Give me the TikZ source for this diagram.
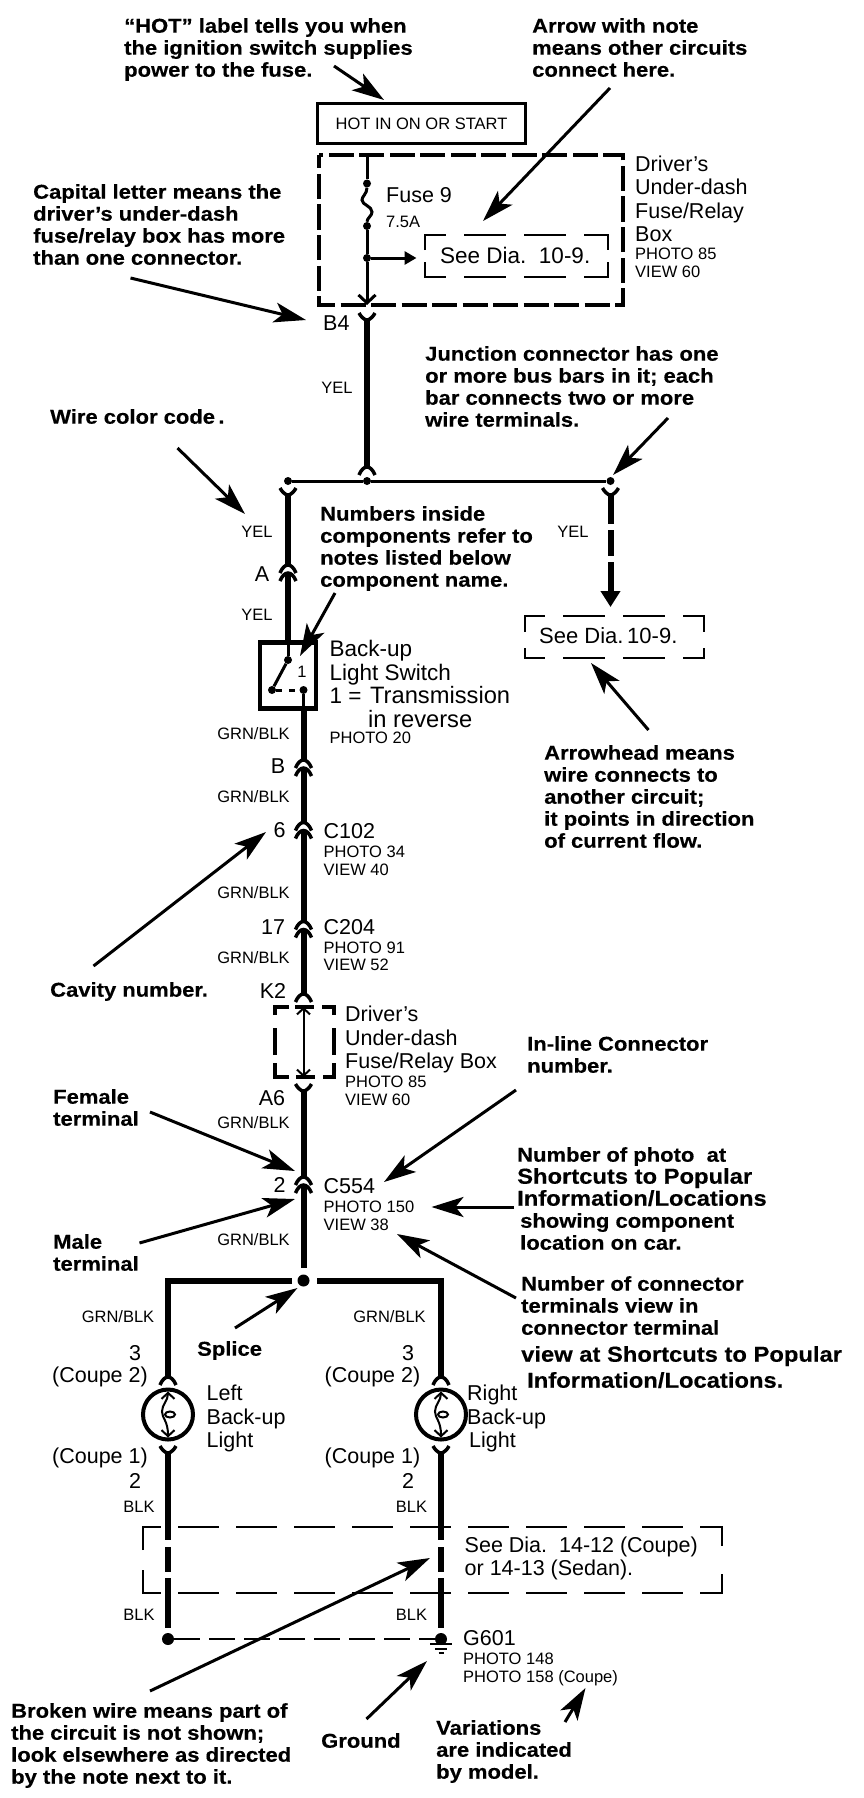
\documentclass[tikz,border=0pt]{standalone}
\usepackage{fontspec}
\usetikzlibrary{arrows.meta}
\setmainfont{Liberation Sans}
\newfontfamily\notefont{Liberation Sans}[FakeStretch=1.1,FakeBold=0.4]
\newcommand{\widenote}[1]{{\fontsize{21.6}{22}\selectfont #1}}
\newcommand{\widename}[1]{{\fontsize{23.7}{23.5}\selectfont #1}}
\tikzset{
	thickwire/.style={line width=6pt},
	thinwire/.style={line width=3pt},
	feedwire/.style={line width=3pt,-{Triangle[length=12pt,width=13pt]}},
	callout/.style={line width=3pt,-{Stealth[length=32pt,width=20pt,inset=8pt]}},
	heavybox/.style={line width=4pt,dash pattern=on 25pt off 5.5pt,dash phase=12pt},
	lightbox/.style={line width=2.5pt,dash pattern=on 42pt off 18pt},
	openarrow/.style={line width=2pt,{Straight Barb[length=6pt,width=13pt]}-{Straight Barb[length=6pt,width=13pt]}},
	notetext/.style={anchor=north west,align=left,font=\notefont\bfseries\fontsize{20}{22}\selectfont},
	nametext/.style={anchor=west,font=\fontsize{21.5}{23.5}\selectfont},
	namelines/.style={anchor=north west,align=left,font=\fontsize{21.5}{23.5}\selectfont},
	smalltext/.style={anchor=west,font=\fontsize{16.5}{18}\selectfont},
	wirecode/.style={font=\fontsize{16.5}{18}\selectfont},
	cavity/.style={font=\fontsize{21.5}{23.5}\selectfont},
	wiredot/.style={circle,fill=black,minimum size=8pt},
	enddot/.style={circle,fill=black,minimum size=12pt},
	forkpic/.pic={
		\coordinate (-c) at (0,0);
		\draw [line width=3.5pt] (-8,-5) .. controls (-6,-1) and (-3,1) .. (0,3) .. controls (3,1) and (6,-1) .. (8,-5);
	},
	archpic/.pic={
		\coordinate (-in) at (0,-4);
		\draw [line width=3.5pt] (-8,4) .. controls (-6,-1) and (-3,-4) .. (0,-4) .. controls (3,-4) and (6,-1) .. (8,4);
	},
	connpic/.pic={
		\coordinate (-in) at (0,-8);
		\coordinate (-out) at (0,0);
		\draw [line width=3.5pt] (-8,0) .. controls (-6,-5) and (-3,-8) .. (0,-8) .. controls (3,-8) and (6,-5) .. (8,0);
		\draw [line width=3.5pt] (-8,8) .. controls (-6,3) and (-3,0) .. (0,0) .. controls (3,0) and (6,3) .. (8,8);
	},
	bulbpic/.pic={
		\draw [line width=4pt] (0,0) circle (25);
		\draw [openarrow] (0,-23) .. controls (0,-14) and (-6,-10) .. (-6,-3) .. controls (-6,4) and (0,6) .. (0,23);
		\draw [line width=2pt] (2,0) ellipse (5 and 3);
	},
	groundpic/.pic={
		\draw [line width=2pt] (-11,5) -- (11,5);
		\draw [line width=2pt] (-6,10) -- (6,10);
		\draw [line width=2pt] (-2.5,13.5) -- (2.5,13.5);
	},
}
\begin{document}
\begin{tikzpicture}[x=1pt,y=-1pt]
	\tikzstyle{every node}+=[inner sep=0pt]
	\useasboundingbox (0,0) rectangle (864,1798);

	\node [notetext] (hotnote) at (124,18) {“HOT” label tells you when\\the ignition switch supplies\\power to the fuse.};
	\node [notetext] (feednote) at (532,18) {Arrow with note\\means other circuits\\connect here.};
	\node [notetext] (capnote) at (33,184) {Capital letter means the\\driver’s under-dash\\fuse/relay box has more\\than one connector.};
	\node [notetext] (junctionnote) at (425,346) {Junction connector has one\\or more bus bars in it; each\\bar connects two or more\\wire terminals.};
	\node [notetext] (colornote) at (50,409) {Wire color code\,.};
	\node [notetext] (numbernote) at (320,506) {Numbers inside\\components refer to\\notes listed below\\component name.};
	\node [notetext] (arrownote) at (544,745) {Arrowhead means\\wire connects to\\another circuit;\\it points in direction\\of current flow.};
	\node [notetext] (cavitynote) at (50,982) {Cavity number.};
	\node [notetext] (inlinenote) at (527,1036) {In-line Connector\\number.};
	\node [notetext] (femalenote) at (53,1089) {Female\\terminal};
	\node [notetext] (malenote) at (53,1234) {Male\\terminal};
	\node [notetext] (photonote) at (517,1147) {Number of photo\ \ at\\\widenote{Shortcuts to Popular}\\\widenote{Information/Locations}\\\hspace*{3pt}showing component\\\hspace*{3pt}location on car.};
	\node [notetext] (viewnote) at (521,1276) {Number of connector\\terminals view in\\connector terminal\\[5pt]\widenote{view at Shortcuts to Popular}\\[4pt]\hspace*{6pt}\widenote{Information/Locations.}};
	\node [notetext] (splicenote) at (197,1341) {Splice};
	\node [notetext] (brokennote) at (11,1703) {Broken wire means part of\\the circuit is not shown;\\look elsewhere as directed\\by the note next to it.};
	\node [notetext] (groundnote) at (321,1733) {Ground};
	\node [notetext] (variationnote) at (436,1720) {Variations\\are indicated\\by model.};

	\node [draw,line width=3pt,minimum width=208pt,minimum height=40pt,font=\fontsize{16.5}{18}\selectfont] (hotbox) at (421.5,124) {HOT IN ON OR START};
	\draw [heavybox] (319,155.5) rectangle (623,305);
	\node [namelines] (fusebox) at (635,155.5) {Driver’s\\Under-dash\\Fuse/Relay\\Box};
	\node [smalltext] (fusephoto) at (635,254) {PHOTO 85};
	\node [smalltext] (fuseview) at (635,272) {VIEW 60};
	\node [nametext] (fusename) at (386,195) {Fuse 9};
	\node [smalltext] (fuseamps) at (386,222) {7.5A};

	\coordinate (feedtop) at (367,155.5);
	\node [wiredot] (fusetop) at (367,183.5) {};
	\node [wiredot] (fusebottom) at (367,226) {};
	\node [wiredot] (feedtap) at (367,258) {};
	\coordinate (feedtip) at (416.5,258);
	\coordinate (feedend) at (367,305);
	\draw [thinwire] (feedtop) -- (fusetop);
	\draw [thinwire] (fusetop) .. controls (367,194) and (362,196) .. (362,200) .. controls (362,205) and (372,206) .. (372,212) .. controls (372,216) and (367,218) .. (fusebottom);
	\draw [thinwire] (fusebottom) -- (feedtap);
	\draw [line width=3pt,-{Straight Barb[length=8pt,width=17pt]}] (feedtap) -- (feedend);
	\draw [feedwire] (feedtap) -- (feedtip);
	\draw [lightbox,dash phase=6pt] (425,250) -- (425,235) -- (608,235) -- (608,250);
	\draw [lightbox,dash phase=6pt] (425,262) -- (425,277) -- (608,277) -- (608,262);
	\node [nametext,font=\fontsize{22.5}{24}\selectfont] (feedsee) at (440,255) {See Dia.\ \ 10-9.};

	\pic (forkB) at (367,318) {forkpic};
	\pic (archB) at (367,471) {archpic};
	\draw [thickwire] (forkB-c) -- (archB-in);
	\node [nametext] (cavB) at (323,323) {B4};
	\node [wirecode] (codeB) at (337,388) {YEL};

	\node [wiredot] (busL) at (288,481) {};
	\node [wiredot] (busM) at (367,481) {};
	\node [wiredot] (busR) at (610.5,481) {};
	\draw [thinwire] (busL) -- (busM) -- (busR);

	\pic (forkL) at (288,493) {forkpic};
	\pic (connA) at (288,573) {connpic};
	\coordinate (swtop) at (288,641);
	\draw [thickwire] (forkL-c) -- (connA-in);
	\draw [thickwire] (connA-out) -- (swtop);
	\node [wirecode] (codeA1) at (257,532) {YEL};
	\node [cavity] (cavA) at (262,574) {A};
	\node [wirecode] (codeA2) at (257,615) {YEL};

	\node [draw,line width=4.5pt,minimum width=56pt,minimum height=66pt] (swbox) at (288,675.5) {};
	\node [wiredot] (swpivot) at (288,660) {};
	\node [wiredot] (swmove) at (272,690) {};
	\node [wiredot] (swfix) at (303.5,690) {};
	\coordinate (swbottom) at (303.5,708);
	\draw [thinwire] (swtop) -- (swpivot);
	\draw [thinwire] (swpivot) -- (swmove);
	\draw [line width=3pt,dash pattern=on 6pt off 7pt] (swmove) -- (swfix);
	\draw [thinwire] (swfix) -- (swbottom);
	\node [wirecode] (swnumber) at (302,671.5) {1};
	\node [namelines,font=\fontsize{22.5}{23.5}\selectfont] (swname) at (329.5,640) {Back-up\\Light Switch\\1 =\hspace*{8.5pt}\widename{Transmission}\\\hspace*{38.5pt}\widename{in reverse}};
	\node [smalltext] (swphoto) at (329.5,738) {PHOTO 20};

	\pic (connB) at (303.5,768) {connpic};
	\pic (connC) at (303.5,830.5) {connpic};
	\pic (connD) at (303.5,929.5) {connpic};
	\pic (archK) at (303.5,998) {archpic};
	\draw [thickwire] (swbottom) -- (connB-in);
	\draw [thickwire] (connB-out) -- (connC-in);
	\draw [thickwire] (connC-out) -- (connD-in);
	\draw [thickwire] (connD-out) -- (archK-in);
	\node [wirecode] (codeB1) at (253.5,734) {GRN/BLK};
	\node [cavity] (cavBB) at (278,766) {B};
	\node [wirecode] (codeB2) at (253.5,797) {GRN/BLK};
	\node [cavity] (cavC) at (279.5,830) {6};
	\node [nametext] (nameC) at (323.5,831) {C102};
	\node [smalltext] (photoC) at (323.5,852) {PHOTO 34};
	\node [smalltext] (viewC) at (323.5,870) {VIEW 40};
	\node [wirecode] (codeB3) at (253.5,893) {GRN/BLK};
	\node [cavity] (cavD) at (273,927) {17};
	\node [nametext] (nameD) at (323.5,927) {C204};
	\node [smalltext] (photoD) at (323.5,948) {PHOTO 91};
	\node [smalltext] (viewD) at (323.5,965) {VIEW 52};
	\node [wirecode] (codeB4) at (253.5,958) {GRN/BLK};
	\node [cavity] (cavK) at (273,991) {K2};

	\coordinate (boxtop) at (303.5,1007);
	\coordinate (boxbottom) at (303.5,1077);
	\draw [line width=4pt,dash pattern=on 27pt off 13pt on 22pt off 6pt on 19pt off 8pt on 20pt off 13pt] (275,1055) -- (275,1007) -- (334,1007) -- (334,1055);
	\draw [line width=4pt,dash pattern=on 28pt off 7pt on 19pt off 8pt on 26pt off 40pt] (275,1063) -- (275,1077) -- (334,1077) -- (334,1063);
	\draw [openarrow] (boxtop) -- (boxbottom);
	\node [namelines] (boxname) at (345,1006) {Driver’s\\Under-dash\\Fuse/Relay Box};
	\node [smalltext] (boxphoto) at (345,1082) {PHOTO 85};
	\node [smalltext] (boxview) at (345,1100) {VIEW 60};

	\pic (forkA) at (303.5,1089) {forkpic};
	\pic (connE) at (303.5,1185) {connpic};
	\node [enddot] (splice) at (303.5,1280.5) {};
	\coordinate (splicetop) at (303.5,1268);
	\draw [thickwire] (forkA-c) -- (connE-in);
	\draw [thickwire] (connE-out) -- (splicetop);
	\node [cavity] (cavA6) at (272,1098) {A6};
	\node [wirecode] (codeE1) at (253.5,1123) {GRN/BLK};
	\node [cavity] (cavE) at (279.5,1185) {2};
	\node [nametext] (nameE) at (323.5,1186) {C554};
	\node [smalltext] (photoE) at (323.5,1207) {PHOTO 150};
	\node [smalltext] (viewE) at (323.5,1225) {VIEW 38};
	\node [wirecode] (codeE2) at (253.5,1240) {GRN/BLK};

	\foreach \wx/\wn/\sx in {168/L/292,441/R/317}{
		\coordinate (bus\wn) at (\sx,1280.5);
		\coordinate (bend\wn) at (\wx,1280.5);
		\pic (arch\wn) at (\wx,1381) {archpic};
		\pic (lamp\wn) at (\wx,1414.5) {bulbpic};
		\pic (fork\wn) at (\wx,1451) {forkpic};
		\draw [thickwire] (bus\wn) -- (bend\wn) -- (arch\wn-in);
		\coordinate (brkA\wn) at (\wx,1540);
		\coordinate (brkB\wn) at (\wx,1547);
		\coordinate (brkC\wn) at (\wx,1572);
		\coordinate (brkD\wn) at (\wx,1578);
		\coordinate (brkE\wn) at (\wx,1628);
		\node [enddot] (gnd\wn) at (\wx,1639) {};
		\draw [thickwire] (fork\wn-c) -- (brkA\wn);
		\draw [thickwire] (brkB\wn) -- (brkC\wn);
		\draw [thickwire] (brkD\wn) -- (brkE\wn);
	}
	\draw [line width=2pt,dash pattern=on 26pt off 9pt] (gndL) -- (gndR);
	\pic (earth) at (441,1639) {groundpic};

	\coordinate (rightend) at (610.5,524);
	\coordinate (rightA) at (610.5,530);
	\coordinate (rightB) at (610.5,556);
	\coordinate (rightC) at (610.5,562);
	\coordinate (righttip) at (610.5,607);
	\pic (forkRight) at (610.5,493) {forkpic};
	\draw [thickwire] (forkRight-c) -- (rightend);
	\draw [thickwire] (rightA) -- (rightB);
	\draw [line width=6pt,-{Triangle[length=16pt,width=19pt]}] (rightC) -- (righttip);
	\node [wirecode] (codeR) at (573,532) {YEL};
	\draw [lightbox,dash phase=6pt] (525,632) -- (525,616) -- (704,616) -- (704,632);
	\draw [lightbox,dash phase=12pt] (525,648) -- (525,658) -- (704,658) -- (704,648);
	\node [nametext,font=\fontsize{22}{24}\selectfont] (rightsee) at (539,636) {See Dia.\,10-9.};

	\node [wirecode] (codeLU) at (118,1317) {GRN/BLK};
	\node [wirecode] (codeRU) at (389.5,1317) {GRN/BLK};
	\node [cavity] (cavLU) at (135,1353) {3};
	\node [cavity] (cavRU) at (408,1353) {3};
	\node [cavity] (coupeLU) at (100,1377) {(Coupe 2)};
	\node [cavity] (coupeRU) at (372.5,1377) {(Coupe 2)};
	\node [namelines] (lampLname) at (206.5,1385) {Left\\Back-up\\Light};
	\node [namelines] (lampRname) at (467,1385) {Right\\Back-up\\\hspace*{2pt}Light};
	\node [cavity] (coupeLD) at (100,1458) {(Coupe 1)};
	\node [cavity] (coupeRD) at (372.5,1458) {(Coupe 1)};
	\node [cavity] (cavLD) at (135,1481) {2};
	\node [cavity] (cavRD) at (408,1481) {2};
	\node [wirecode] (codeLA) at (139,1507) {BLK};
	\node [wirecode] (codeRA) at (411.5,1507) {BLK};
	\node [wirecode] (codeLB) at (139,1615) {BLK};
	\node [wirecode] (codeRB) at (411.5,1615) {BLK};

	\draw [line width=2pt,dash pattern=on 41pt off 17pt] (143,1550) -- (143,1527) -- (722,1527) -- (722,1550);
	\draw [line width=2.5pt,dash pattern=on 41pt off 17pt] (143,1570) -- (143,1593) -- (722,1593) -- (722,1570);
	\node [nametext] (lowsee1) at (464.5,1547) {See Dia.\ \ 14-12 (Coupe)};
	\node [nametext] (lowsee2) at (464.5,1570) {or 14-13 (Sedan).};
	\node [nametext] (earthname) at (463,1638) {G601};
	\node [smalltext] (earthphoto1) at (463,1659) {PHOTO 148};
	\node [smalltext] (earthphoto2) at (463,1678) {PHOTO 158 (Coupe)};

	\coordinate (hottail) at (334,66); \coordinate (hottip) at (384,100);
	\draw [callout] (hottail) -- (hottip);
	\coordinate (feedtail) at (610,88); \coordinate (feedhead) at (483,221);
	\draw [callout] (feedtail) -- (feedhead);
	\coordinate (captail) at (130.5,278); \coordinate (captip) at (306,320);
	\draw [callout] (captail) -- (captip);
	\coordinate (junctail) at (668,418); \coordinate (junctip) at (613,475);
	\draw [callout] (junctail) -- (junctip);
	\coordinate (colortail) at (177.5,448); \coordinate (colortip) at (245,514);
	\draw [callout] (colortail) -- (colortip);
	\coordinate (numtail) at (335,593); \coordinate (numtip) at (300,656);
	\draw [callout] (numtail) -- (numtip);
	\coordinate (headtail) at (648.5,730); \coordinate (headtip) at (591,663);
	\draw [callout] (headtail) -- (headtip);
	\coordinate (cavtail) at (93.5,966); \coordinate (cavtip) at (266,832);
	\draw [callout] (cavtail) -- (cavtip);
	\coordinate (femtail) at (150,1112); \coordinate (femtip) at (295,1171);
	\draw [callout] (femtail) -- (femtip);
	\coordinate (maletail) at (139.5,1243); \coordinate (maletip) at (295,1199);
	\draw [callout] (maletail) -- (maletip);
	\coordinate (inltail) at (516,1090); \coordinate (inltip) at (384,1182);
	\draw [callout] (inltail) -- (inltip);
	\coordinate (phototail) at (514,1207); \coordinate (phototip) at (431.5,1207);
	\draw [callout] (phototail) -- (phototip);
	\coordinate (viewtail) at (516,1298); \coordinate (viewtip) at (397,1234);
	\draw [callout] (viewtail) -- (viewtip);
	\coordinate (spltail) at (235,1328); \coordinate (spltip) at (297.5,1288);
	\draw [callout] (spltail) -- (spltip);
	\coordinate (brktail) at (150,1691); \coordinate (brktip) at (430,1558);
	\draw [callout] (brktail) -- (brktip);
	\coordinate (gndtail) at (366.5,1719); \coordinate (gndtip) at (427,1661);
	\draw [callout] (gndtail) -- (gndtip);
	\coordinate (vartail) at (565,1722); \coordinate (vartip) at (585.5,1688);
	\draw [callout] (vartail) -- (vartip);
\end{tikzpicture}
\end{document}
